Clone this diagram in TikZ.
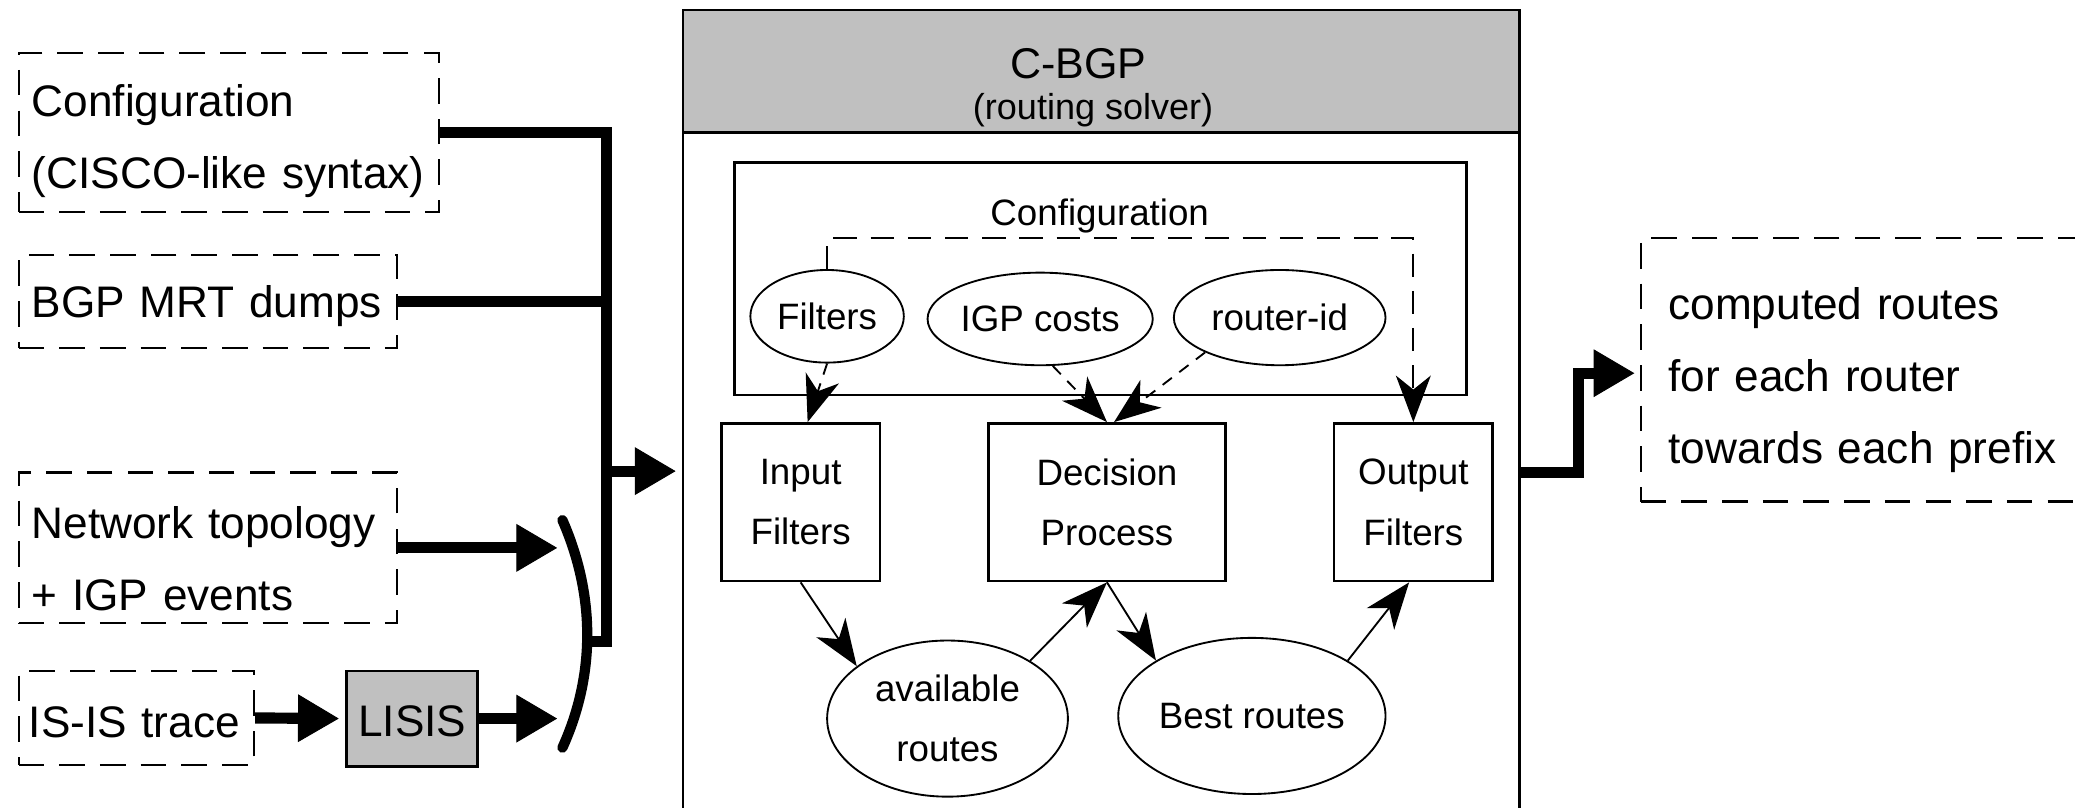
\documentclass[tikz,border=0pt]{standalone}
\usepackage{fontspec}
\setmainfont{Liberation Sans}
\usetikzlibrary{arrows.meta,shapes.geometric,calc}
\definecolor{hdrgray}{RGB}{192,192,192}
\newcommand{\dnstrut}[1]{\rule{0pt}{#1}}
\begin{document}
\begin{tikzpicture}[x=0.02cm,y=-0.02cm,
  big/.style={font=\fontsize{19}{31}\selectfont},
  small/.style={font=\fontsize{15.8}{26}\selectfont},
  dbox/.style={draw, dash pattern=on 11pt off 6.5pt, line width=0.9pt, big, align=left, inner xsep=0.2cm, inner ysep=0pt},
  sbox/.style={draw, line width=1.2pt, small, align=center, inner sep=0pt},
  ell/.style={draw, ellipse, line width=0.8pt, small, align=center, inner sep=0pt},
  fat/.style={line width=4.8pt},
  fatarrow/.style={fat, -{Triangle[length=17.5pt,width=20.5pt,line width=0.4pt]}},
  tarrow/.style={line width=0.8pt, -{Stealth[length=20pt,width=15pt,inset=6pt]}},
  cdash/.style={dash pattern=on 10pt off 6pt},
  sdash/.style={dash pattern=on 5pt off 4pt},
]
\useasboundingbox (0,0) rectangle (1568,610);
\clip (0,0) rectangle (1568,610);

% C-BGP frame
\node[draw, line width=1.2pt, minimum width=12.64cm, minimum height=12.65cm, inner sep=0pt] (cbgp) at (832,323.8) {};
\node[draw, line width=1.2pt, fill=hdrgray, minimum width=12.64cm, minimum height=1.848cm, inner sep=0pt] (hdr) at (832,53.8) {};
\node[font=\fontsize{18.5}{20}\selectfont, inner sep=0pt] (title) at (815,48) {C-BGP};
\node[font=\fontsize{15.5}{20}\selectfont, inner sep=0pt] (sub) at (826,83) {(routing solver)};

% inner configuration
\node[draw, line width=1.2pt, minimum width=11.06cm, minimum height=3.51cm, inner sep=0pt] (conf) at (831.5,210.75) {};
\node[small, inner sep=0pt] (conflbl) at (831,163) {Configuration};
\node[ell, minimum width=2.32cm, minimum height=1.4cm] (filt) at (625,239) {Filters};
\node[ell, minimum width=3.2cm, minimum height=1.4cm] (igp) at (786,241) {IGP costs};
\node[ell, minimum width=3.2cm, minimum height=1.44cm] (rid) at (967,240) {router-id};

% processing boxes
\node[sbox, minimum width=2.4cm, minimum height=2.38cm] (inf) at (605,379.5) {Input\\Filters};
\node[sbox, minimum width=3.58cm, minimum height=2.38cm] (dp) at (836.5,379.5) {Decision\\Process};
\node[sbox, minimum width=2.4cm, minimum height=2.38cm] (outf) at (1068,379.5) {Output\\Filters};
\node[ell, minimum width=3.64cm, minimum height=2.36cm] (avail) at (716,543) {available\\routes};
\node[ell, minimum width=4.04cm, minimum height=2.36cm] (best) at (946,541) {Best routes};

% left inputs
\node[dbox, text width=5.96cm, minimum height=2.4cm] (cfg) at (173,100) {\dnstrut{21pt}Configuration\\(CISCO-like syntax)};
\node[dbox, text width=5.32cm, minimum height=1.4cm] (bgp) at (157,228) {\dnstrut{17.5pt}BGP MRT dumps};
\node[dbox, text width=5.32cm, minimum height=2.28cm] (net) at (157,414) {\dnstrut{23pt}Network topology\\+ IGP events};
\node[dbox, text width=3.25cm, inner xsep=0.155cm, minimum height=1.42cm] (isis) at (103,542.5) {\dnstrut{17pt}IS-IS trace};
\node[draw, line width=1.2pt, fill=hdrgray, big, minimum width=1.98cm, minimum height=1.44cm, inner sep=0pt] (lisis) at (311.5,543) {\dnstrut{16pt}LISIS};

% output
\node[dbox, text width=6.36cm, inner xsep=0.42cm, minimum height=3.98cm, anchor=west] (res) at (1239,279.5) {\dnstrut{22.5pt}computed routes\\for each router\\towards each prefix};

% thick connectors on the left
\coordinate (jx) at (458,485);
\coordinate (bj) at (444,485);
\coordinate (jin) at (458,356);
\coordinate (bin) at (421,0);
\coordinate (bT) at (425,393);
\coordinate (bB) at (425,565);
\draw[fat] (cfg.east) -- (cfg.east -| jx) -- (jx) -- (bj);
\draw[fat] (bgp.east) -- (bgp.east -| jx);
\draw[fatarrow, shorten >=0.09cm] (jin) -- (jin -| cbgp.west);
\draw[line width=4.4pt, line cap=round] (bT) .. controls (450,450) and (450,510) .. (bB);
\draw[fatarrow] (net.east) -- (net.east -| bin);
\draw[fatarrow, shorten >=0.1cm] (isis.east) -- (lisis.west);
\draw[fatarrow] (lisis.east) -- (lisis.east -| bin);

% output connector
\coordinate (jo) at (1193,357);
\draw[fatarrow, shorten >=0.08cm] (jo -| cbgp.east) -- (jo) -- ([yshift=-0.05cm]jo |- res.west) -- ([yshift=-0.05cm]res.west);

% thin connectors inside
\coordinate (ctop) at (0,180);
\draw[tarrow, sdash] (filt.south) -- (inf.85);
\draw[tarrow, sdash] (igp.-75) -- (dp.north);
\draw[tarrow, sdash] (rid.205) -- (dp.85);
\draw[tarrow, cdash] (filt.north) -- (filt.north |- ctop) -- (outf.north |- ctop) -- (outf.north);
\draw[tarrow] (inf.south) -- (avail.150);
\draw[tarrow] (avail.35) -- (dp.south);
\draw[tarrow] (dp.south) -- (best.150);
\draw[tarrow] (best.30) -- (outf.-93);
\end{tikzpicture}
\end{document}
